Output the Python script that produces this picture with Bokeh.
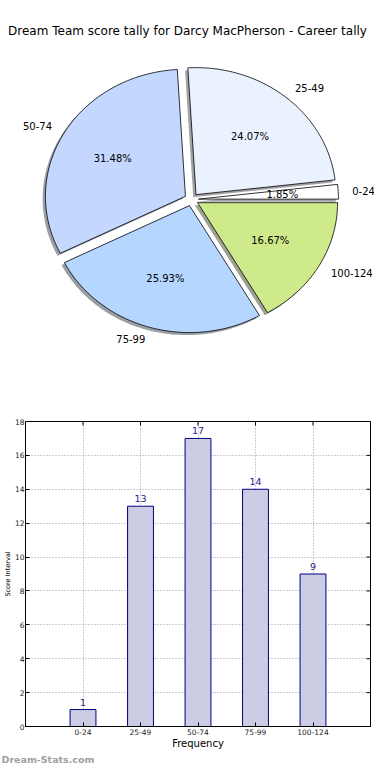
import numpy as np
from bokeh.plotting import figure
from bokeh.models import Range1d, Label, FixedTicker, ColumnDataSource, Title
from bokeh.layouts import column, row
from bokeh.embed import file_html
from bokeh.resources import INLINE
from bokeh.core.properties import value

# ---------------- data ----------------
title_text = "Dream Team score tally for Darcy MacPherson - Career tally"
categories = ["0-24", "25-49", "50-74", "75-99", "100-124"]
counts = [1, 13, 17, 14, 9]
pie_colors = ["#FFFFFF", "#EAF2FF", "#C4D8FF", "#B4D6FF", "#CEEA8A"]
explode = [0.05, 0.05, 0.05, 0.05, 0.05]
x_label = "Frequency"
y_label = "Score Interval"
watermark = "Dream-Stats.com"
y_ticks = [0, 2, 4, 6, 8, 10, 12, 14, 16, 18]

FONT = "DejaVu Sans"

# ---------------- pie ----------------
RX, RY = 140.0, 127.0      # pixels per unit radius (matplotlib non-equal aspect)
CX, CY = 191.0, 199.0      # pie centre in canvas pixels
PW, PH = 374, 410

pie = figure(width=PW, height=PH, output_backend="svg", toolbar_location=None,
             x_axis_location=None, y_axis_location=None,
             x_range=Range1d(-CX / RX, (PW - CX) / RX),
             y_range=Range1d(-(PH - CY) / RY, CY / RY),
             min_border=0)
pie.grid.visible = False
pie.outline_line_color = None
pie.background_fill_color = "white"
pie.border_fill_color = "white"

total = float(sum(counts))
fracs = [c / total for c in counts]


def darker(hexcol, f=0.3):
    r, g, b = (int(hexcol[i:i + 2], 16) for i in (1, 3, 5))
    return "#%02x%02x%02x" % (int(r * f), int(g * f), int(b * f))


wx, wy, sx, sy = [], [], [], []
label_specs, pct_specs = [], []
theta = 0.0
for frac, ex, cat in zip(fracs, explode, categories):
    t1 = theta
    t2 = theta + 2 * np.pi * frac
    theta = t2
    tm = 0.5 * (t1 + t2)
    cx, cy = ex * np.cos(tm), ex * np.sin(tm)
    a = np.linspace(t1, t2, max(4, int(300 * frac) + 4))
    px = np.concatenate([[cx], cx + np.cos(a), [cx]])
    py = np.concatenate([[cy], cy + np.sin(a), [cy]])
    wx.append(px)
    wy.append(py)
    sx.append(px - 0.02)
    sy.append(py - 0.02)
    lx, ly = cx + 1.1 * np.cos(tm), cy + 1.1 * np.sin(tm)
    label_specs.append((lx, ly, cat, "left" if lx > 0 else "right"))
    qx, qy = cx + 0.6 * np.cos(tm), cy + 0.6 * np.sin(tm)
    pct_specs.append((qx, qy, "%.2f%%" % (100 * frac)))

shadow_cols = [darker(c) for c in pie_colors]
pie.patches(xs=sx, ys=sy, fill_color=shadow_cols, fill_alpha=0.5, line_color=None)
pie.patches(xs=wx, ys=wy, fill_color=pie_colors, line_color="black", line_width=0.8)

for lx, ly, txt, al in label_specs:
    pie.add_layout(Label(x=lx, y=ly, text=txt, text_align=al, text_baseline="middle",
                         text_font=FONT, text_font_size="10px", text_color="black"))
for qx, qy, txt in pct_specs:
    pie.add_layout(Label(x=qx, y=qy, text=txt, text_align="center", text_baseline="middle",
                         text_font=FONT, text_font_size="10px", text_color="black"))

pie.add_layout(Label(x=(PW / 2 - CX) / RX, y=(CY - 30) / RY, text=title_text,
                     text_align="center", text_baseline="middle", text_font=FONT,
                     text_font_size="12px", text_color="black"))

# ---------------- bar chart ----------------
bar = figure(width=374, height=354, output_backend="svg", toolbar_location=None,
             x_range=Range1d(0, 6), y_range=Range1d(0, 18),
             min_border_left=0, min_border_right=4, min_border_top=11, min_border_bottom=0)
bar.background_fill_color = "white"
bar.border_fill_color = "white"
bar.outline_line_color = "black"
bar.outline_line_width = 1

xpos = [i + 1 for i in range(len(categories))]
src = ColumnDataSource(dict(x=xpos, top=counts, label=[str(c) for c in counts]))

bar.xaxis.ticker = FixedTicker(ticks=xpos)
bar.xaxis.major_label_overrides = {x: c for x, c in zip(xpos, categories)}
bar.yaxis.ticker = FixedTicker(ticks=y_ticks)

for ax in (bar.xaxis, bar.yaxis):
    ax.major_tick_in = 4
    ax.major_tick_out = 0
    ax.minor_tick_line_color = None
    ax.axis_line_color = "black"
    ax.major_tick_line_color = "black"
    ax.major_label_text_font = FONT
    ax.major_label_text_font_size = "7.5px"
    ax.major_label_text_color = "#222222"
    ax.major_label_standoff = 2
bar.yaxis.major_label_standoff = 1

bar.xaxis.axis_label = x_label
bar.xaxis.axis_label_text_font = FONT
bar.xaxis.axis_label_text_font_size = "10px"
bar.xaxis.axis_label_text_font_style = "normal"
bar.xaxis.axis_label_text_color = "black"
bar.xaxis.axis_label_standoff = 0

bar.yaxis.axis_label = y_label
bar.yaxis.axis_label_text_font = FONT
bar.yaxis.axis_label_text_font_size = "6.5px"
bar.yaxis.axis_label_text_font_style = "normal"
bar.yaxis.axis_label_text_color = "black"
bar.yaxis.axis_label_standoff = 0

bar.grid.grid_line_color = "#9a9a9a"
bar.grid.grid_line_dash = "1 2"
bar.grid.grid_line_width = 1
bar.xgrid.ticker = FixedTicker(ticks=xpos)
bar.ygrid.ticker = FixedTicker(ticks=y_ticks)

# mirrored inward ticks on the right and top edges (matplotlib classic look)
bar.ray(x=6, y=y_ticks, length=4, length_units="screen", angle=np.pi, color="black", line_width=1)
bar.ray(x=xpos, y=18, length=4, length_units="screen", angle=-np.pi / 2, color="black", line_width=1)

bar.vbar(x="x", top="top", width=0.45, source=src, fill_color="#CCCCE4",
         line_color="#000080", line_width=1)
bar.text(x="x", y="top", text="label", source=src, text_align="center",
         text_baseline="bottom", y_offset=-4, text_font=value(FONT),
         text_font_size="9.5px", text_color="#1c1c8c")

bar.add_layout(Title(text=watermark, align="left", offset=-24, standoff=0,
                     text_font=FONT, text_font_size="9.5px", text_font_style="bold",
                     text_color="#a0a0a0"), "below")

layout = column(row(pie), row(bar), spacing=0)
open("out.html", "w").write(file_html(layout, INLINE))
